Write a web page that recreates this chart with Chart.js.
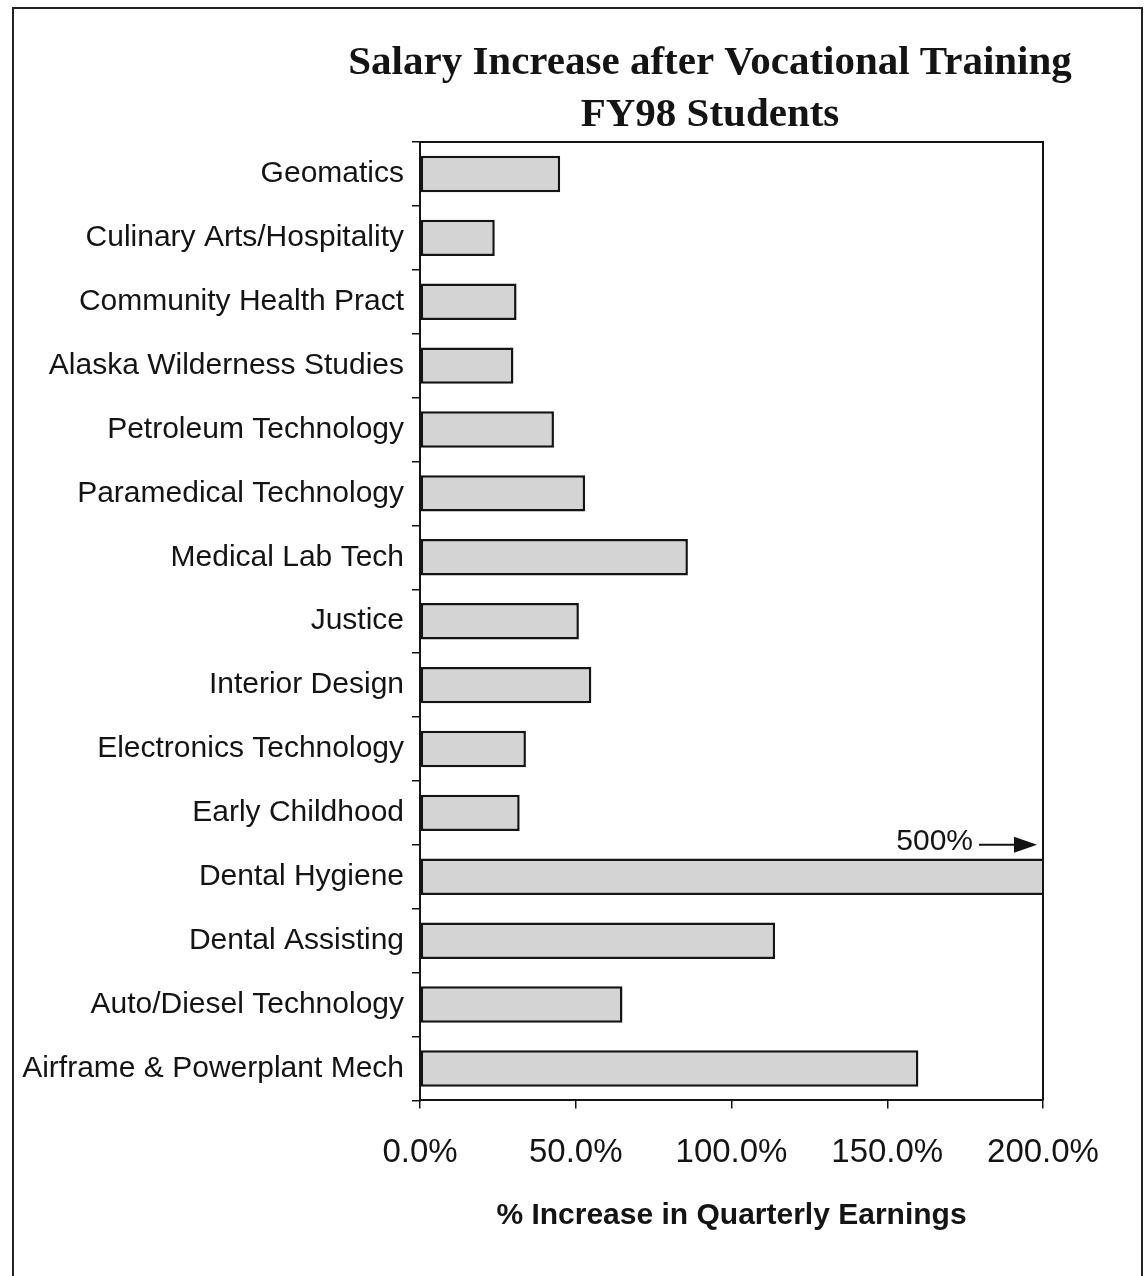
<!DOCTYPE html>
<html>
<head>
<meta charset="utf-8">
<script src="https://cdn.jsdelivr.net/npm/chart.js@4.4.1/dist/chart.umd.min.js"></script>
<style>
  html, body { margin: 0; padding: 0; background: #fff; }
  #wrap { position: relative; width: 1144px; height: 1276px; }
  #frame {
    position: absolute; left: 12px; top: 7px; width: 1127px; height: 1280px;
    border-left: 2px solid #222; border-top: 2px solid #222; border-right: 2px solid #222;
  }
  canvas { position: absolute; left: 0; top: 0; }
</style>
</head>
<body>
<div id="wrap">
  <div id="frame"></div>
  <canvas id="salaryChart" width="1144" height="1276"></canvas>
</div>
<script>
const programs = [
    'Geomatics', 'Culinary Arts/Hospitality', 'Community Health Pract',
    'Alaska Wilderness Studies', 'Petroleum Technology', 'Paramedical Technology',
    'Medical Lab Tech', 'Justice', 'Interior Design', 'Electronics Technology',
    'Early Childhood', 'Dental Hygiene', 'Dental Assisting',
    'Auto/Diesel Technology', 'Airframe & Powerplant Mech'
];
const salaryIncrease = [45, 24, 31, 30, 43, 53, 86, 51, 55, 34, 32, 500, 114, 65, 160];
const xTicks = [0, 50, 100, 150, 200];
const titleLines = ['Salary Increase after Vocational Training', 'FY98 Students'];
const offScaleLabel = 'Dental Hygiene';

const ink = '#141414';

// title lines and plot frame (top + right side)
const framePlugin = {
    id: 'framePlugin',
    afterDraw(chart) {
        const { ctx, chartArea } = chart;
        ctx.save();
        ctx.strokeStyle = ink;
        ctx.lineWidth = 2;
        ctx.beginPath();
        ctx.moveTo(chartArea.left, chartArea.top);
        ctx.lineTo(chartArea.right, chartArea.top);
        ctx.lineTo(chartArea.right, chartArea.bottom);
        ctx.stroke();

        ctx.fillStyle = ink;
        ctx.textAlign = 'center';
        ctx.textBaseline = 'middle';
        ctx.font = 'bold 41px "Liberation Serif", "Times New Roman", serif';
        ctx.fillText(titleLines[0], 710, 63);
        ctx.fillText(titleLines[1], 710, 115);
        ctx.restore();
    }
};

// "500% ->" note for the bar that runs off the scale
const offScalePlugin = {
    id: 'offScalePlugin',
    afterDatasetsDraw(chart) {
        const { ctx, scales } = chart;
        const idx = programs.indexOf(offScaleLabel);
        const tip = scales.x.getPixelForValue(scales.x.max) - 6;
        const y = scales.y.getPixelForValue(idx) - 35;
        ctx.save();
        ctx.fillStyle = ink;
        ctx.strokeStyle = ink;
        ctx.font = '30px "Liberation Sans", Arial, sans-serif';
        ctx.textAlign = 'right';
        ctx.textBaseline = 'middle';
        ctx.fillText(salaryIncrease[idx] + '%', tip - 64, y);
        ctx.lineWidth = 2;
        ctx.beginPath();
        ctx.moveTo(tip - 58, y + 3);
        ctx.lineTo(tip - 20, y + 3);
        ctx.stroke();
        ctx.beginPath();
        ctx.moveTo(tip, y + 3);
        ctx.lineTo(tip - 23, y - 5);
        ctx.lineTo(tip - 23, y + 11);
        ctx.closePath();
        ctx.fill();
        ctx.restore();
    }
};

new Chart(document.getElementById('salaryChart'), {
    type: 'bar',
    data: {
        labels: programs,
        datasets: [{
            data: salaryIncrease,
            backgroundColor: '#d4d4d4',
            borderColor: ink,
            borderWidth: 2.5,
            borderSkipped: false,
            categoryPercentage: 1,
            barPercentage: 0.57
        }]
    },
    options: {
        indexAxis: 'y',
        responsive: false,
        animation: false,
        devicePixelRatio: 1,
        layout: {
            padding: { top: 142, right: 101, bottom: 42, left: 0 }
        },
        plugins: {
            legend: { display: false },
            tooltip: { enabled: false }
        },
        scales: {
            x: {
                min: 0,
                max: 200,
                afterBuildTicks(scale) {
                    scale.ticks = xTicks.map(v => ({ value: v }));
                },
                grid: {
                    drawOnChartArea: false,
                    drawTicks: true,
                    tickLength: 8,
                    color: ink,
                    lineWidth: 1.5
                },
                border: { display: true, color: ink, width: 2 },
                ticks: {
                    color: ink,
                    padding: 25,
                    maxRotation: 0,
                    font: { family: '"Liberation Sans", Arial, sans-serif', size: 33 },
                    callback: v => v.toFixed(1) + '%'
                },
                title: {
                    display: true,
                    text: '% Increase in Quarterly Earnings',
                    color: ink,
                    padding: { top: 0, bottom: 0 },
                    font: { family: '"Liberation Sans", Arial, sans-serif', size: 30, weight: 'bold' }
                }
            },
            y: {
                afterFit(scale) {
                    scale.width = 420;
                },
                grid: {
                    offset: true,
                    drawOnChartArea: false,
                    tickLength: 8,
                    color: ink,
                    lineWidth: 1.5
                },
                border: { display: true, color: ink, width: 2 },
                ticks: {
                    color: ink,
                    padding: 8,
                    font: { family: '"Liberation Sans", Arial, sans-serif', size: 30 }
                }
            }
        }
    },
    plugins: [framePlugin, offScalePlugin]
});
</script>
</body>
</html>
